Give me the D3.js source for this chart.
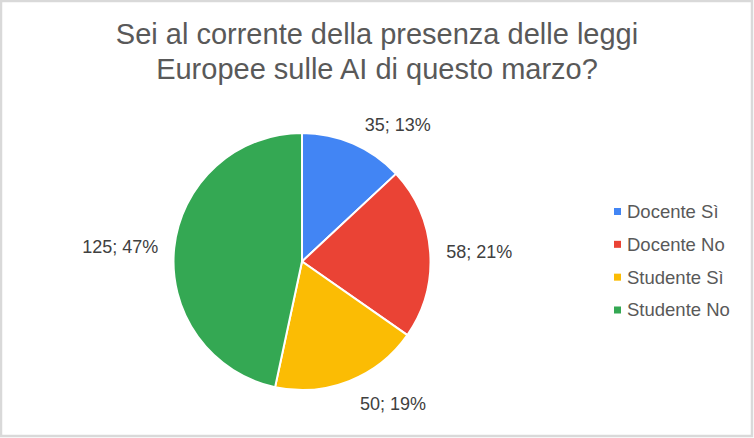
<!DOCTYPE html>
<html>
<head>
<meta charset="utf-8">
<script src="https://cdn.jsdelivr.net/npm/d3@7"></script>
<style>
  html, body { margin: 0; padding: 0; background: #fff; }
  svg { display: block; }
</style>
</head>
<body>
<div id="chart"></div>
<script>
const titleLines = ["Sei al corrente della presenza delle leggi", "Europee sulle AI di questo marzo?"];
const categories = ["Docente Sì", "Docente No", "Studente Sì", "Studente No"];
const values = [35, 58, 50, 125];
const percentLabels = ["13%", "21%", "19%", "47%"];
const colors = ["#4285F4", "#EA4335", "#FBBC04", "#34A853"];

const width = 754;
const height = 438;
const font = "Arial, 'Liberation Sans', sans-serif";

const svg = d3.select('#chart')
    .append('svg')
    .attr('width', width)
    .attr('height', height);

// frame
svg.append('rect')
    .attr('x', 1)
    .attr('y', 1)
    .attr('width', width - 3)
    .attr('height', height - 3)
    .attr('fill', '#fff')
    .attr('stroke', '#d9d9d9')
    .attr('stroke-width', 2.5);

// title
svg.append('g')
    .selectAll('text')
    .data(titleLines)
    .join('text')
    .attr('x', 377)
    .attr('y', (d, i) => 44 + i * 34.5)
    .attr('text-anchor', 'middle')
    .style('font-family', font)
    .style('font-size', '29px')
    .style('fill', '#595959')
    .text(d => d);

const data = categories.map((c, i) => ({ name: c, value: values[i], pct: percentLabels[i], color: colors[i] }));

const cx = 302, cy = 261.5, r = 128.5;

const pie = d3.pie().sort(null).value(d => d.value);
const arcs = pie(data);
const arc = d3.arc().innerRadius(0).outerRadius(r);

const g = svg.append('g').attr('transform', `translate(${cx},${cy})`);

g.selectAll('path')
    .data(arcs)
    .join('path')
    .attr('d', arc)
    .attr('fill', d => d.data.color)
    .attr('stroke', '#fff')
    .attr('stroke-width', 2);

// data labels, placed just outside the slice
const labelR = r + 16;
g.selectAll('text.lbl')
    .data(arcs)
    .join('text')
    .attr('class', 'lbl')
    .each(function (d) {
        const a = (d.startAngle + d.endAngle) / 2;
        const s = Math.sin(a), c = Math.cos(a);
        let x = labelR * s, y = -labelR * c;
        let anchor = 'middle';
        if (s > 0.5) anchor = 'start';
        else if (s < -0.5) anchor = 'end';
        else if (s > 0) { anchor = 'start'; x += 5; }
        let dy = '0.35em';
        if (c > 0.5) dy = '0.1em';
        else if (c < -0.5) dy = '0.8em';
        d3.select(this)
            .attr('x', x)
            .attr('y', y)
            .attr('dy', dy)
            .attr('text-anchor', anchor);
    })
    .style('font-family', font)
    .style('font-size', '18px')
    .style('fill', '#404040')
    .text(d => `${d.data.value}; ${d.data.pct}`);

// legend
const legendY = d3.scalePoint().domain(categories).range([211.5, 310]);

const legend = svg.append('g')
    .selectAll('g')
    .data(data)
    .join('g')
    .attr('transform', d => `translate(614, ${legendY(d.name)})`);

legend.append('rect')
    .attr('x', 0)
    .attr('y', -3.5)
    .attr('width', 7)
    .attr('height', 7)
    .attr('fill', d => d.color);

legend.append('text')
    .attr('x', 13)
    .attr('dy', '0.35em')
    .style('font-family', font)
    .style('font-size', '18.5px')
    .style('fill', '#595959')
    .text(d => d.name);
</script>
</body>
</html>
